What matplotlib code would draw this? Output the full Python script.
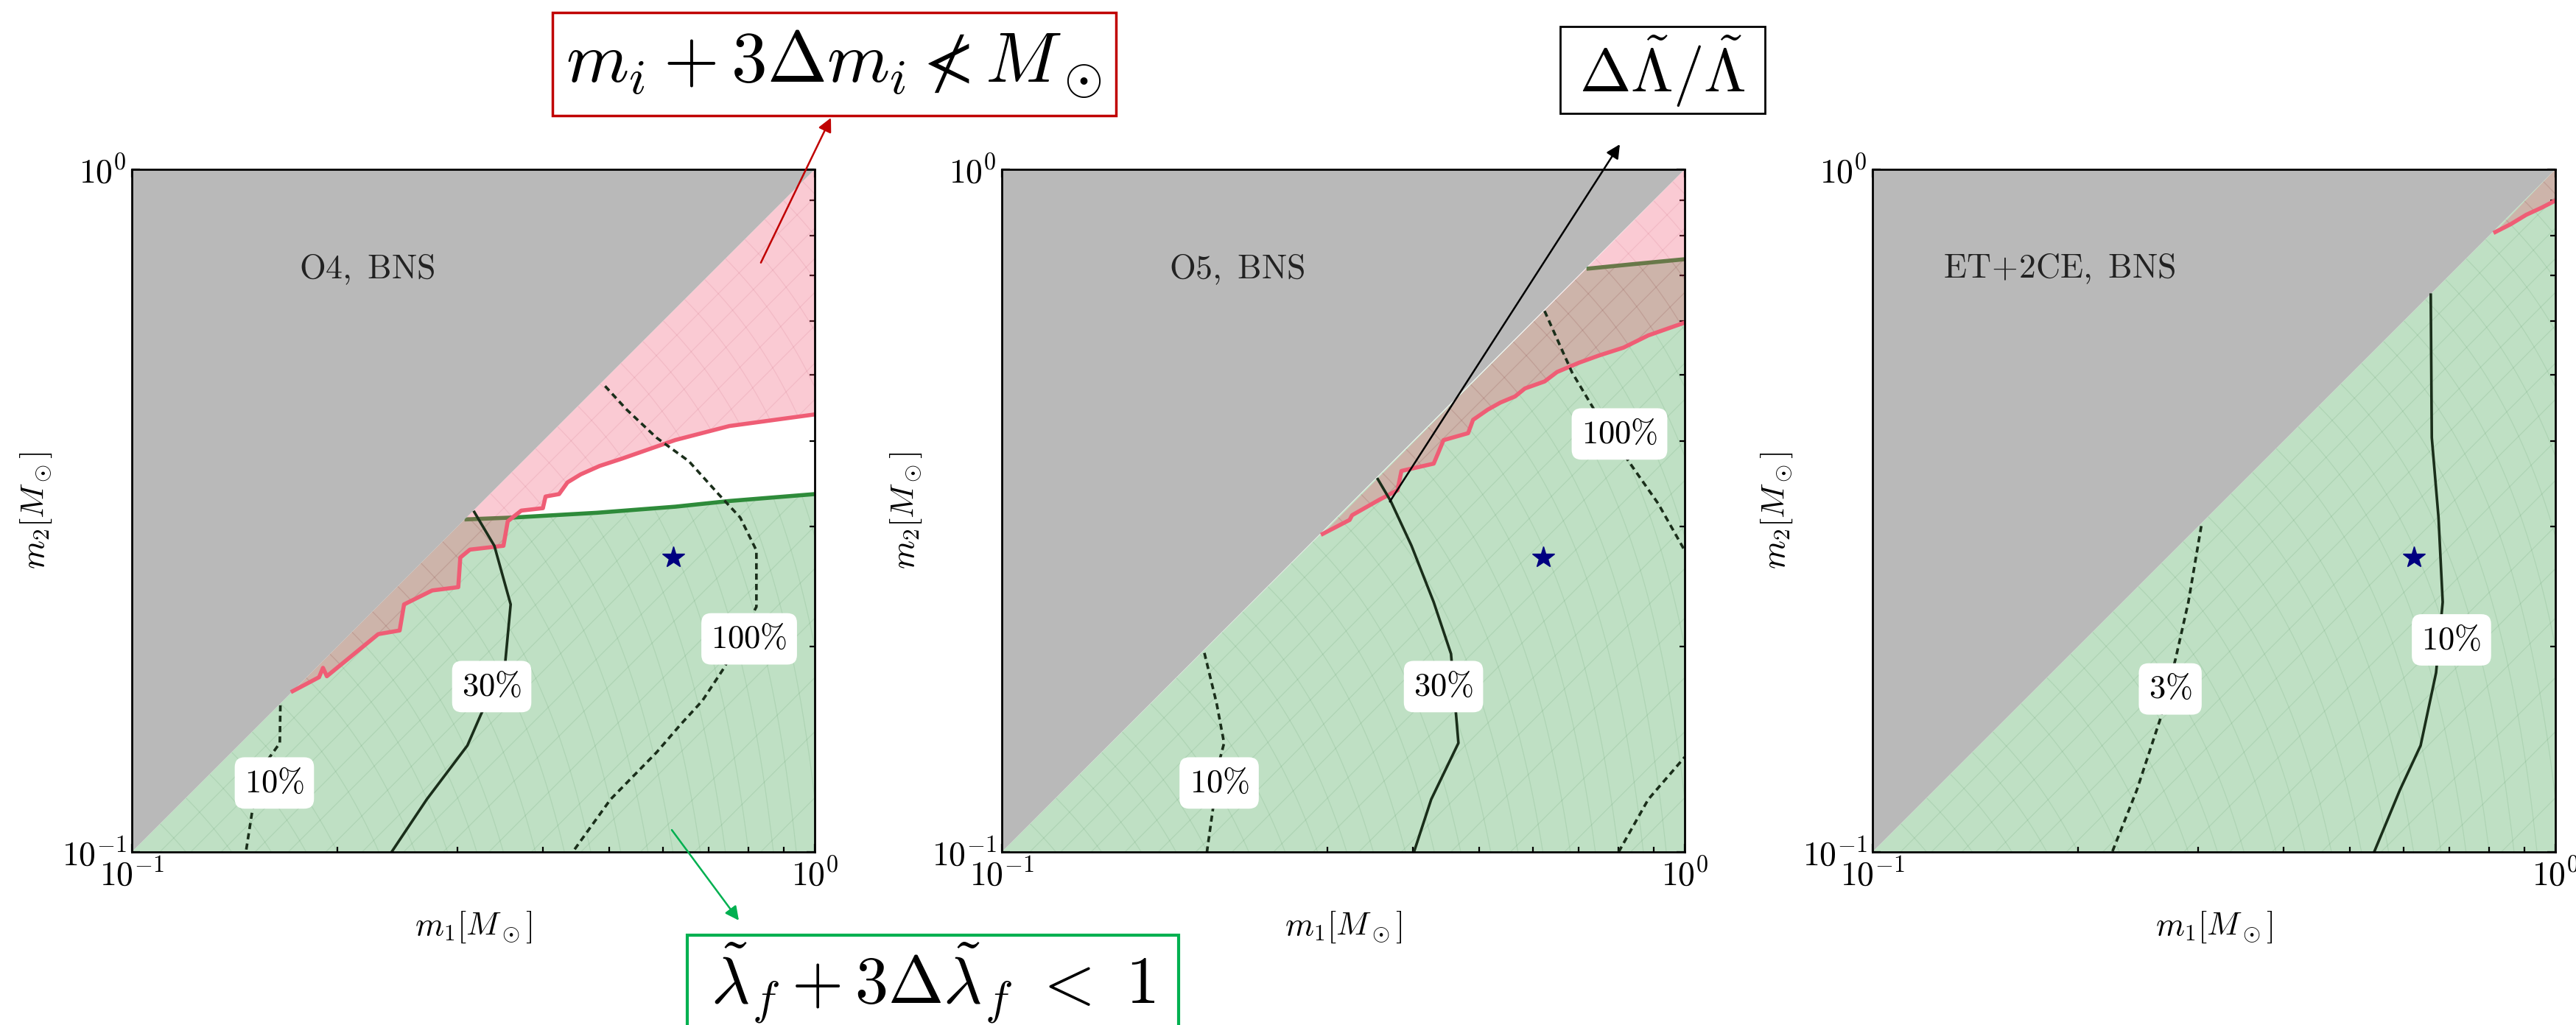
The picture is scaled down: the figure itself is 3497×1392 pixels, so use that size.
import numpy as np
import matplotlib.pyplot as plt
from matplotlib.patches import Rectangle, Polygon
from matplotlib.collections import LineCollection
from matplotlib.ticker import FuncFormatter, LogLocator, NullFormatter

plt.rcParams['mathtext.fontset'] = 'cm'
plt.rcParams['font.family'] = ['DejaVu Serif']

# ---- O4 ----
o4_red_m1 = [0.172, 0.188, 0.1905, 0.193, 0.2295, 0.2467, 0.2504, 0.2753, 0.3006, 0.3027, 0.3127, 0.3501,
             0.3552, 0.3718, 0.3999, 0.4035, 0.4223, 0.4345, 0.4542, 0.4842, 0.5209, 0.6249, 0.7499, 1.0]
o4_red_m2 = [0.172, 0.1803, 0.1861, 0.1809, 0.2085, 0.2111, 0.2305, 0.2416, 0.2443, 0.2700, 0.2773, 0.2809,
             0.3051, 0.3163, 0.3189, 0.3317, 0.3344, 0.3479, 0.3574, 0.3677, 0.3766, 0.4013, 0.4207, 0.4375]
o4_green_m1 = [0.307, 0.3618, 0.4799, 0.6249, 0.7499, 1.0]
o4_green_m2 = [0.307, 0.309, 0.314, 0.3205, 0.3267, 0.3344]
o4_c10_m1 = [0.165, 0.1647, 0.1565, 0.151, 0.1469]
o4_c10_m2 = [0.164, 0.1444, 0.1345, 0.1194, 0.1]
o4_c30_m1 = [0.3173, 0.3395, 0.3587, 0.3521, 0.3243, 0.31, 0.2703, 0.2401]
o4_c30_m2 = [0.3148, 0.2809, 0.2305, 0.189, 0.1588, 0.1432, 0.1194, 0.1]
o4_c100_m1 = [0.4932, 0.5305, 0.5866, 0.6541, 0.7229, 0.7778, 0.8215, 0.8215, 0.7364, 0.6845, 0.6365,
              0.5866, 0.5023, 0.4422]
o4_c100_m2 = [0.4814, 0.4446, 0.4045, 0.3737, 0.3344, 0.3090, 0.2765, 0.2286, 0.186, 0.1665, 0.1538,
              0.1399, 0.1194, 0.1]

# ---- O5 ----
o5_red_m1 = [0.2951, 0.3231, 0.3258, 0.3572, 0.3797, 0.3848, 0.4290, 0.4362, 0.4434, 0.4818, 0.4899,
             0.5148, 0.5371, 0.5645, 0.5834, 0.6236, 0.6501, 0.7007, 0.7487, 0.8137, 0.8844, 1.0]
o5_red_m2 = [0.2924, 0.3065, 0.3114, 0.3281, 0.3387, 0.3616, 0.3706, 0.3855, 0.4011, 0.4107, 0.4296,
             0.4446, 0.4553, 0.4649, 0.4775, 0.4890, 0.5047, 0.5210, 0.5336, 0.5481, 0.5711, 0.5963]
o5_green_m1 = [0.7182, 0.8412, 1.0]
o5_green_m2 = [0.7151, 0.7264, 0.7385]
o5_c10_m1 = [0.198, 0.2063, 0.2116, 0.2081, 0.2047, 0.1997]
o5_c10_m2 = [0.1957, 0.1652, 0.1444, 0.1355, 0.1194, 0.1]
o5_c30_m1 = [0.3553, 0.3712, 0.3981, 0.4290, 0.4548, 0.4663, 0.4254, 0.4014]
o5_c30_m2 = [0.3517, 0.3265, 0.2809, 0.2323, 0.1951, 0.1444, 0.1194, 0.1]
o5_c100_m1 = [0.6235, 0.6836, 0.7370, 0.8275, 0.9143, 1.0]
o5_c100_m2 = [0.6202, 0.5047, 0.4446, 0.3737, 0.3240, 0.2765]
o5_c100b_m1 = [0.8004, 0.8844, 1.0]
o5_c100b_m2 = [0.1, 0.1194, 0.1377]

# ---- ET+2CE ----
et_red_m1 = [0.8166, 0.8603, 0.9064, 0.9548, 1.0]
et_red_m2 = [0.8094, 0.8312, 0.8579, 0.8788, 0.9000]
et_c3_m1 = [0.3030, 0.2901, 0.2779, 0.2637, 0.2438, 0.2244]
et_c3_m2 = [0.3002, 0.2323, 0.1920, 0.1563, 0.1232, 0.1]
et_c10_m1 = [0.6569, 0.6592, 0.6743, 0.6839, 0.6688, 0.6348, 0.5919, 0.5428]
et_c10_m2 = [0.6553, 0.4045, 0.3090, 0.2323, 0.1831, 0.1432, 0.1232, 0.1]

star_m1, star_m2 = 0.62, 0.27

# parameter grid behind the shaded regions (total mass, mass ratio)
grid_mtot = [0.22, 0.24, 0.26, 0.28, 0.30, 0.33, 0.36, 0.39, 0.42, 0.45, 0.49, 0.53, 0.57, 0.62, 0.67,
             0.72, 0.78, 0.84, 0.90, 0.97, 1.04, 1.12, 1.20, 1.29, 1.38, 1.48, 1.58, 1.69, 1.80, 1.92]
grid_q = [0.12, 0.15, 0.18, 0.22, 0.26, 0.30, 0.35, 0.40, 0.46, 0.52, 0.59, 0.66, 0.74, 0.82, 0.91]

panels = [
    dict(title='O4,\\ BNS', red=(o4_red_m1, o4_red_m2), green=(o4_green_m1, o4_green_m2),
         contours=[(o4_c10_m1, o4_c10_m2, '--'), (o4_c30_m1, o4_c30_m2, '-'), (o4_c100_m1, o4_c100_m2, '--')],
         labels=[('10', 0.1617, 0.1262), ('30', 0.3365, 0.1747), ('100', 0.8017, 0.2052)]),
    dict(title='O5,\\ BNS', red=(o5_red_m1, o5_red_m2), green=(o5_green_m1, o5_green_m2),
         contours=[(o5_c10_m1, o5_c10_m2, '--'), (o5_c30_m1, o5_c30_m2, '-'), (o5_c100_m1, o5_c100_m2, '--'),
                   (o5_c100b_m1, o5_c100b_m2, '--')],
         labels=[('10', 0.2081, 0.1262), ('30', 0.4434, 0.1747), ('100', 0.8027, 0.4096)]),
    dict(title='ET\\!+\\!2CE,\\ BNS', red=(et_red_m1, et_red_m2), green=None,
         contours=[(et_c3_m1, et_c3_m2, '--'), (et_c10_m1, et_c10_m2, '-')],
         labels=[('3', 0.2729, 0.1733), ('10', 0.7044, 0.2045)]),
]

GRAY = '#b9b9b9'
GREEN_FILL = '#2e9a3e'
PINK_FILL = '#f0506e'
RED_LINE = '#ef5d75'
GREEN_LINE = '#2e8b3a'
CONTOUR = '#1a2e1a'


def grid_segments():
    segs = []
    for M in grid_mtot:
        lo, hi = M / 2, min(M - 0.1, 1.0)
        if hi <= lo:
            continue
        a = np.linspace(lo, hi, 50)
        segs.append(np.column_stack([a, M - a]))
    for q in grid_q:
        segs.append(np.array([[0.1 / q, 0.1], [1.0, q]]))
    return segs


fig = plt.figure(figsize=(34.98, 13.92), dpi=100)
lefts = [0.05117, 0.38879, 0.72670]
axes = []
for left, p in zip(lefts, panels):
    ax = fig.add_axes([left, 0.16882, 0.26501, 0.66595])
    axes.append(ax)
    ax.set_xscale('log')
    ax.set_yscale('log')
    ax.set_xlim(0.1, 1)
    ax.set_ylim(0.1, 1)

    # green region: below the lambda_f bound and below m2 = m1
    if p['green'] is not None:
        gx, gy = p['green']
        poly_x = [0.1] + list(gx) + [1.0, 1.0]
        poly_y = [0.1] + list(gy) + [0.1, 0.1]
    else:
        poly_x = [0.1, 1.0, 1.0]
        poly_y = [0.1, 1.0, 0.1]
    green_patch = Polygon(np.column_stack([poly_x, poly_y]), closed=True, fc=GREEN_FILL, alpha=0.3,
                          lw=0, zorder=1)
    ax.add_patch(green_patch)
    mesh = LineCollection(grid_segments(), colors='#1f6b2c', linewidths=0.9, alpha=0.10, zorder=1.2)
    ax.add_collection(mesh)
    mesh.set_clip_path(green_patch)
    if p['green'] is not None:
        ax.plot(gx, gy, color=GREEN_LINE, lw=4, zorder=1.5, solid_capstyle='butt')

    # pink region: above the mass bound and below m2 = m1
    rx, ry = p['red']
    pink_patch = Polygon(np.column_stack([list(rx) + [1.0], list(ry) + [1.0]]), closed=True,
                         fc=PINK_FILL, alpha=0.3, lw=0, zorder=2)
    ax.add_patch(pink_patch)
    mesh2 = LineCollection(grid_segments(), colors='#b03050', linewidths=0.9, alpha=0.10, zorder=2.2)
    ax.add_collection(mesh2)
    mesh2.set_clip_path(pink_patch)

    # excluded m2 > m1
    ax.fill([0.1, 0.1, 1.0], [0.1, 1.0, 1.0], color=GRAY, lw=0, zorder=3)

    ax.plot(rx, ry, color=RED_LINE, lw=4, zorder=4)

    for cx, cy, ls in p['contours']:
        line, = ax.plot(cx, cy, color=CONTOUR, lw=2.6, ls=ls, zorder=5)
        if ls == '--':
            line.set_dashes((2.3, 1.6))
    for lab, lx, ly in p['labels']:
        ax.text(lx, ly, r'$%s\%%$' % lab, fontsize=32, ha='center', va='center', zorder=7,
                bbox=dict(boxstyle='round,pad=0.3', fc='white', ec='none'))

    ax.plot(star_m1, star_m2, marker='*', color='#000080', ms=22, zorder=6, ls='none')

    ax.text(0.444, 0.854, r'$\mathrm{%s}$' % p['title'], transform=ax.transAxes, fontsize=33,
            ha='right', va='center', color='#222222', zorder=8)

    ax.set_xlim(0.1, 1)
    ax.set_ylim(0.1, 1)
    ax.xaxis.set_major_locator(LogLocator(base=10, numticks=5))
    ax.yaxis.set_major_locator(LogLocator(base=10, numticks=5))
    ax.xaxis.set_minor_locator(LogLocator(base=10, subs=np.arange(2, 10), numticks=20))
    ax.yaxis.set_minor_locator(LogLocator(base=10, subs=np.arange(2, 10), numticks=20))
    fmt = FuncFormatter(lambda v, pos: r'$10^{%d}$' % int(round(np.log10(v))))
    ax.xaxis.set_major_formatter(fmt)
    ax.yaxis.set_major_formatter(fmt)
    ax.xaxis.set_minor_formatter(NullFormatter())
    ax.yaxis.set_minor_formatter(NullFormatter())
    ax.tick_params(which='both', direction='in', top=True, right=True, width=1.6, labelsize=33)
    ax.tick_params(which='major', length=8)
    ax.tick_params(which='minor', length=5)
    ax.tick_params(axis='x', pad=7)
    ax.tick_params(axis='y', pad=5)
    for s in ax.spines.values():
        s.set_linewidth(2)
        s.set_zorder(10)
    ax.set_xlabel(r'$m_1[M_\odot]$', fontsize=32, labelpad=16)
    ax.set_ylabel(r'$m_2[M_\odot]$', fontsize=32, labelpad=8)

# boxed conditions above / below the panels
W, H = 3498.0, 1392.0


def fig_box(x0, y0, x1, y1, color, lw):
    fig.add_artist(Rectangle((x0 / W, 1 - y1 / H), (x1 - x0) / W, (y1 - y0) / H,
                             transform=fig.transFigure, fill=False, ec=color, lw=lw, clip_on=False))


fig_box(750, 17, 1515, 157, '#c00000', 2.5)
fig.text(1132 / W, 1 - 87 / H, r'$m_i+3\Delta m_i\nless M_\odot$', fontsize=70, ha='center', va='center')

fig_box(2118, 36, 2396, 154, 'black', 2)
fig.text(2257 / W, 1 - 97 / H, r'$\Delta\tilde{\Lambda}/\tilde{\Lambda}$', fontsize=60, ha='center', va='center')

fig_box(933, 1270, 1600, 1420, '#00b050', 3)
fig.text(1267 / W, 1 - 1335 / H, r'$\tilde{\lambda}_f+3\Delta\tilde{\lambda}_f\ <\ 1$', fontsize=65,
         ha='center', va='center')

arrow_kw = dict(arrowstyle='-|>', lw=1.8, mutation_scale=28, shrinkA=0, shrinkB=0)
axes[0].annotate('', xy=(1128 / W, 1 - 160 / H), xycoords='figure fraction', xytext=(0.834, 0.73),
                 textcoords='data', arrowprops=dict(color='#c00000', **arrow_kw), annotation_clip=False,
                 zorder=20)
axes[0].annotate('', xy=(1003 / W, 1 - 1250 / H), xycoords='figure fraction', xytext=(0.6176, 0.1077),
                 textcoords='data', arrowprops=dict(color='#00b050', **arrow_kw), annotation_clip=False,
                 zorder=20)
axes[1].annotate('', xy=(2199 / W, 1 - 196 / H), xycoords='figure fraction', xytext=(0.370, 0.326),
                 textcoords='data', arrowprops=dict(color='black', **arrow_kw), annotation_clip=False,
                 zorder=20)

fig.savefig('out.png', dpi=100)
